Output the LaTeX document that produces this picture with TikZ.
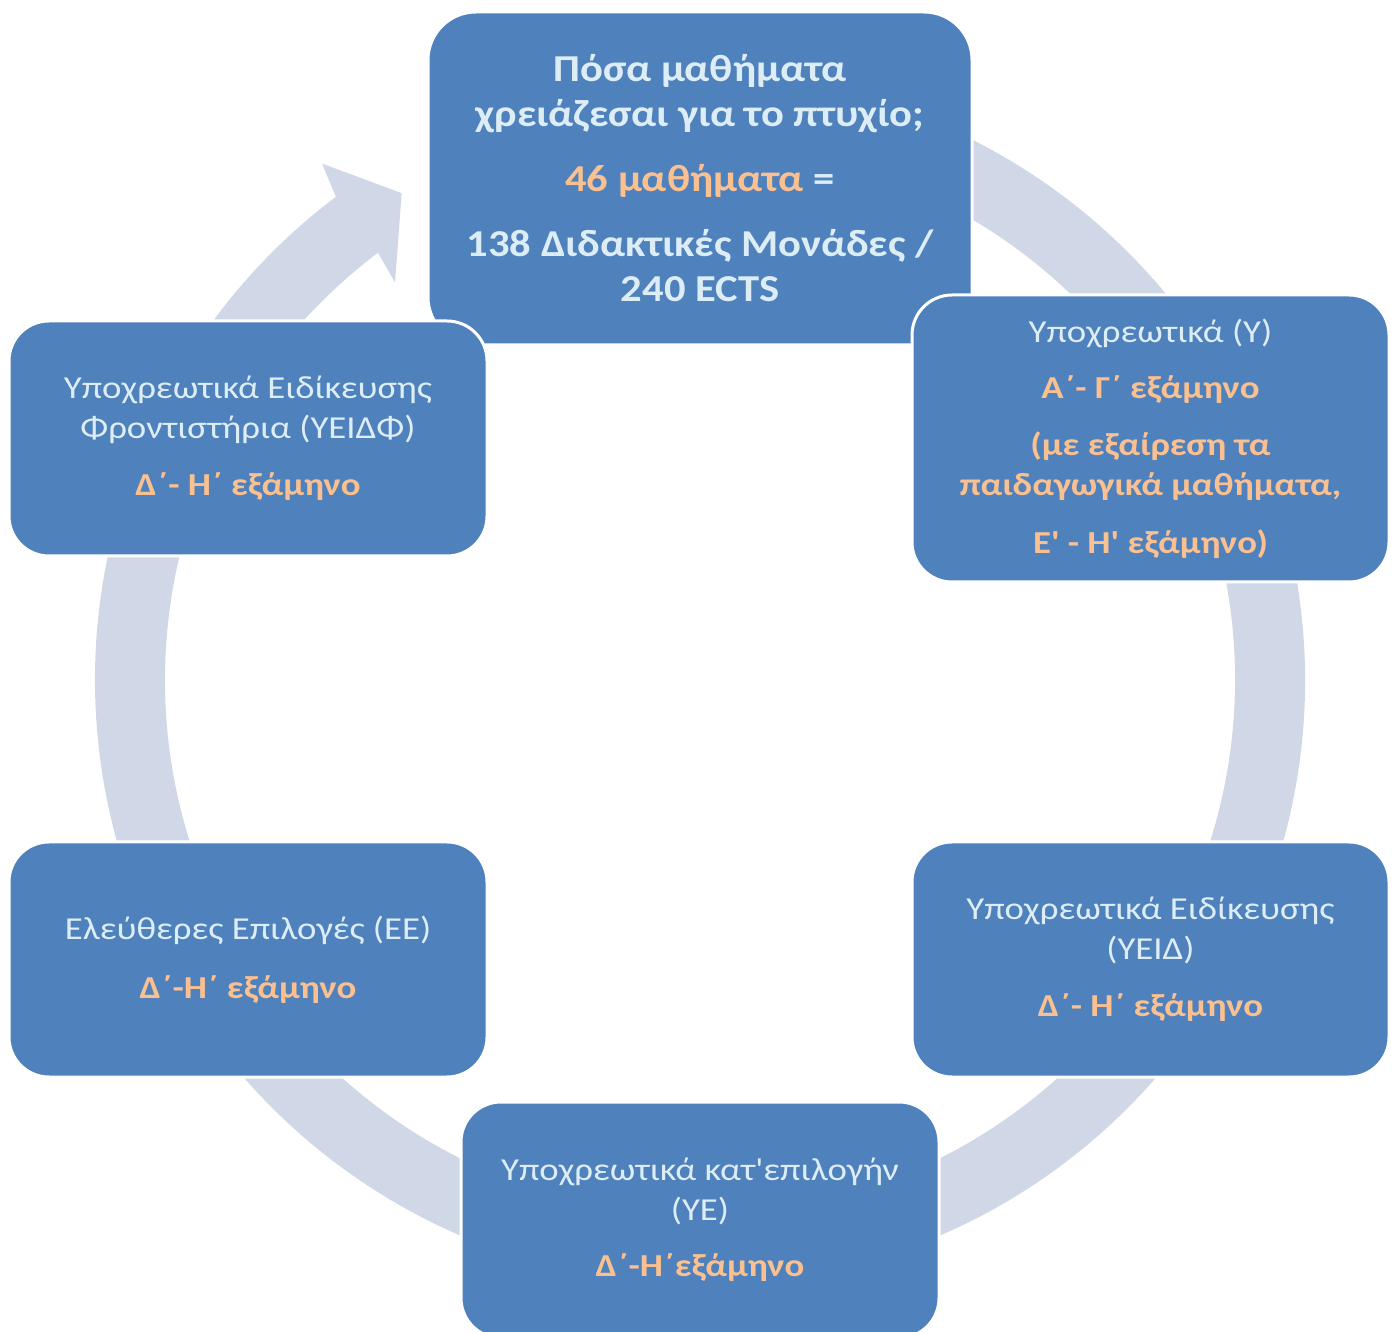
\documentclass[tikz,border=0pt]{standalone}
\usepackage{fontspec}
\setmainfont{Carlito}[FakeStretch=1.15]
\newfontfamily\boxfont{Carlito}[FakeStretch=1.15]
\newfontfamily\topfont{Carlito}[FakeStretch=1.12]
\definecolor{boxblue}{HTML}{4F81BD}
\definecolor{ringc}{HTML}{D0D8E8}
\definecolor{lighttxt}{HTML}{DDEDF5}
\definecolor{orangetxt}{HTML}{FAC090}
\newcommand{\ortx}[1]{{\color{orangetxt}\bfseries #1}}
\begin{document}
\begin{tikzpicture}[x=1pt,y=1pt,
  cbox/.style={draw=white, line width=3pt, fill=boxblue, rounded corners=40pt,
    align=center, text=lighttxt, inner sep=0pt,
    font=\boxfont\fontsize{32}{40}\selectfont},
  topbox/.style={cbox, rounded corners=48pt, font=\topfont\fontsize{38}{45}\selectfont\bfseries},
  ringshape/.style={fill=ringc, draw=none}]
\useasboundingbox (0,0) rectangle (1394,1331);
\clip (0,0) rectangle (1394,1331);
% ring with arrowhead
\begin{scope}[shift={(700,651)}]
  \fill[ringshape] (127:605pt) -- (126.2:640pt) -- (121.5:571pt) -- (127.5:501pt) -- (127:535pt)
    arc[start angle=127, end angle=460, radius=535pt] -- (460:605pt)
    arc[start angle=460, end angle=127, radius=605pt] -- cycle;
\end{scope}
% top box
\node[topbox, minimum width=544pt, minimum height=333pt] (top) at (700,1152.5)
  {Πόσα μαθήματα\\ χρειάζεσαι για το πτυχίο;\\[20pt]
   {\color{orangetxt}46 μαθήματα} =\\[20pt]
   138 Διδακτικές Μονάδες /\\ 240 ECTS};
% other boxes
\node[cbox, minimum width=477pt, minimum height=287pt] (y) at (1150.5,892.5)
  {Υποχρεωτικά (Υ)\\[16pt] \ortx{Α΄- Γ΄ εξάμηνο}\\[17pt]
   \ortx{(με εξαίρεση τα}\\ \ortx{παιδαγωγικά μαθήματα,}\\[18pt] \ortx{Ε' - Η' εξάμηνο)}};
\node[cbox, minimum width=478pt, minimum height=235pt] (yeidf) at (248,892.5)
  {Υποχρεωτικά Ειδίκευσης\\ Φροντιστήρια (ΥΕΙΔΦ)\\[17pt] \ortx{Δ΄- Η΄ εξάμηνο}};
\node[cbox, minimum width=478pt, minimum height=235pt] (ee) at (248,371.5)
  {Ελεύθερες Επιλογές (ΕΕ)\\[19pt] \ortx{Δ΄-Η΄ εξάμηνο}};
\node[cbox, minimum width=477pt, minimum height=235pt] (yeid) at (1150.5,371.5)
  {Υποχρεωτικά Ειδίκευσης\\ (ΥΕΙΔ)\\[17pt] \ortx{Δ΄- Η΄ εξάμηνο}};
\node[cbox, minimum width=478pt, minimum height=236pt] (ye) at (700,111)
  {Υποχρεωτικά κατ'επιλογήν\\ (ΥΕ)\\[16pt] \ortx{Δ΄-Η΄εξάμηνο}};
\end{tikzpicture}
\end{document}
